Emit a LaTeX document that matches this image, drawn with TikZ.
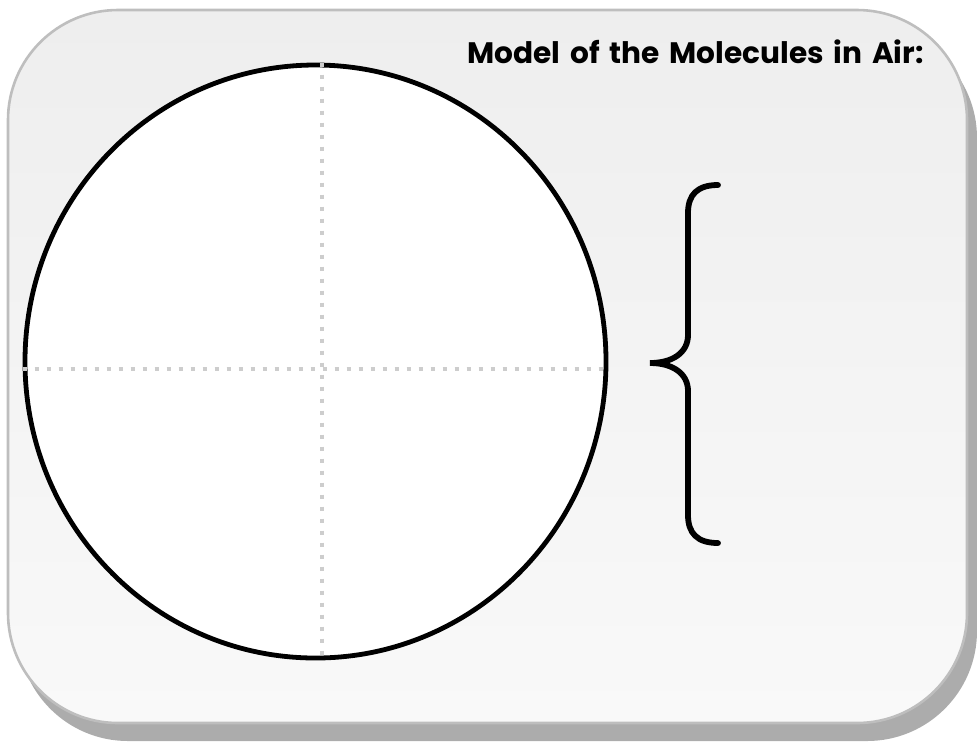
\documentclass[tikz,border=0pt]{standalone}
\usepackage{fontspec}
\newfontfamily\titlefont{Poppins}
\usetikzlibrary{shapes.geometric,calc}
\definecolor{panelTop}{RGB}{238,238,238}
\definecolor{panelBottom}{RGB}{249,249,249}
\definecolor{panelEdge}{RGB}{190,190,190}
\definecolor{panelShadow}{RGB}{172,172,172}
\definecolor{gridGray}{RGB}{205,205,205}

\begin{document}
\begin{tikzpicture}[
  x=0.5pt, y=-0.5pt,
  panel/.style={rounded corners=55pt},
  airmodel/.style={ellipse, draw, line width=2.4pt, fill=white, inner sep=0pt,
                   minimum width=290.5pt, minimum height=296.5pt},
  gridline/.style={gridGray, line width=2.3pt, dash pattern=on 2.2pt off 3.8pt},
  bracestroke/.style={line width=2.9pt, line cap=round},
  heading/.style={font=\titlefont\bfseries\fontsize{14.8}{17}\selectfont, inner sep=0pt}
]
\useasboundingbox (0,0) rectangle (977,741);
% card and its shadow
\fill[panel, panelShadow] (18,28) rectangle (977,741);
\shade[panel, top color=panelTop, bottom color=panelBottom, draw=panelEdge, line width=1.3pt]
  (8,10) rectangle (967,723);

\node[heading, anchor=base west] (title) at (467,63)
  {\spaceskip=0.33em plus 0.1em Model of the Molecules in Air:};

% the model circle with its quarters
\node[airmodel] (model) at (315.5,361.5) {};
\draw[gridline] ($(model.north)+(6.5,0)$) -- ($(model.south)+(6.5,0)$);
\draw[gridline] ($(model.west)+(0,7.5)$) -- ($(model.east)+(0,7.5)$);

% brace
\coordinate (braceTop) at (718,185);
\coordinate (braceTip) at (650,363);
\coordinate (braceBottom) at (718,543);
\draw[bracestroke] (braceTop) .. controls (697,185) and (688,195) .. (688,213)
  -- (688,335) .. controls (688,353) and (672,363) .. (braceTip)
  .. controls (672,363) and (688,373) .. (688,391)
  -- (688,515) .. controls (688,533) and (697,543) .. (braceBottom);
\end{tikzpicture}
\end{document}
